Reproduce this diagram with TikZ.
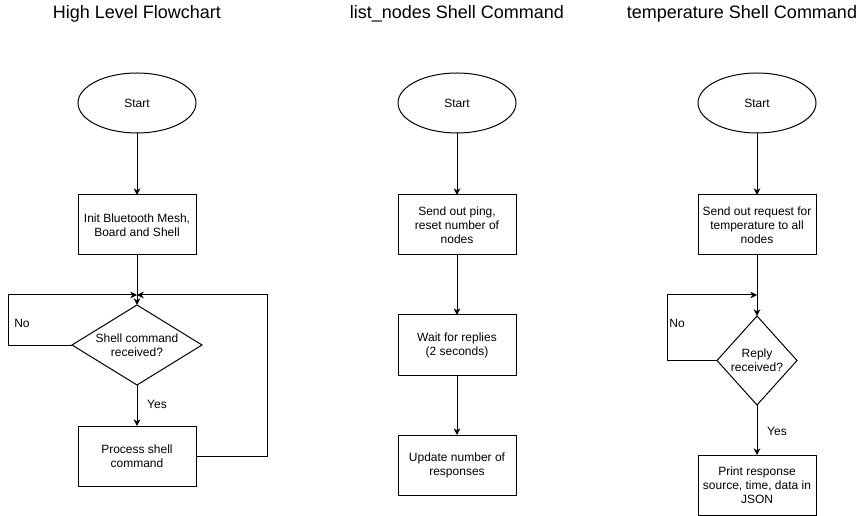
\documentclass[tikz,border=0pt]{standalone}
\usepackage{fontspec}
\setmainfont{Liberation Sans}
\usetikzlibrary{shapes,arrows.meta,positioning}

\begin{document}
\begin{tikzpicture}[
    x=0.75pt, y=-0.75pt,
    line width=0.75pt,
    node distance=45pt,
    every node/.style={font=\fontsize{9}{10.5}\selectfont, outer sep=0pt},
    startnode/.style={ellipse, draw, minimum width=88.5pt, minimum height=45pt, inner sep=0pt},
    block/.style={rectangle, draw, align=center, minimum width=88.5pt, minimum height=45pt, inner sep=0pt},
    decision/.style={diamond, draw, inner sep=0pt},
    title/.style={font=\fontsize{13.5}{16}\selectfont},
    arrow/.style={-{Stealth[length=5pt,width=5pt,inset=1.5pt]}}
]
\useasboundingbox (0,0) rectangle (863,516);

% Titles
\node[title] (title1) at (137,14) {High Level Flowchart};
\node[title] (title2) at (457,14) {list\_nodes Shell Command};
\node[title] (title3) at (742,14) {temperature Shell Command};

% High level flowchart
\node[startnode] (start1) at (137,103) {Start};
\node[block, below=46.5pt of start1] (init) {Init Bluetooth Mesh,\\Board and Shell};
\node[decision, minimum width=97.5pt, minimum height=60pt, below=37.5pt of init,
    label={[align=center]center:Shell command\\received?}] (shell) {};
\node[block, below=30.75pt of shell] (process) {Process shell\\command};
\coordinate (join1) at (137,295);

% list_nodes shell command
\node[startnode] (start2) at (457,103) {Start};
\node[block, below=46.5pt of start2] (ping) {Send out ping,\\reset number of\\nodes};
\node[block, below=of ping] (wait) {Wait for replies\\(2 seconds)};
\node[block, below=of wait] (update) {Update number of\\responses};

% temperature shell command
\node[startnode] (start3) at (757,103) {Start};
\node[block, below=46.5pt of start3] (request) {Send out request for\\temperature to all\\nodes};
\node[decision, minimum width=60pt, minimum height=66.75pt, below=45.75pt of request,
    label={[align=center]center:Reply\\received?}] (reply) {};
\node[block, below=37.5pt of reply] (print) {Print response\\source, time, data in\\JSON};
\coordinate (join3) at (757,295);

% Labels
\node (no1) at (22,323) {No};
\node (yes1) at (157,404) {Yes};
\node (no3) at (677,323) {No};
\node (yes3) at (777,431) {Yes};

% Arrows
\draw[arrow] (start1) -- (init);
\draw[arrow] (init) -- (shell);
\draw[arrow] (shell) -- (process);
\draw[arrow] (shell.west) -- ++(-64,0) |- (join1);
\draw[arrow] (process.east) -- ++(71,0) |- (join1);

\draw[arrow] (start2) -- (ping);
\draw[arrow] (ping) -- (wait);
\draw[arrow] (wait) -- (update);

\draw[arrow] (start3) -- (request);
\draw[arrow] (request) -- (reply);
\draw[arrow] (reply) -- (print);
\draw[arrow] (reply.west) -- ++(-50,0) |- (join3);

\end{tikzpicture}
\end{document}
